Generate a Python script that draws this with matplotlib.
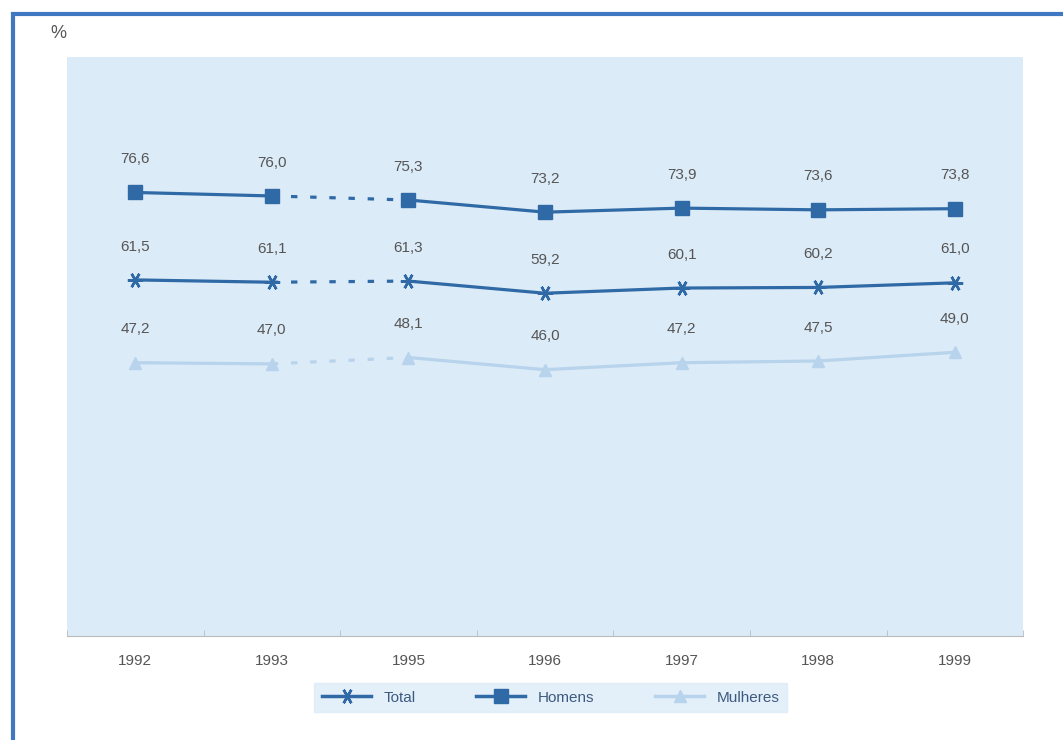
import matplotlib.pyplot as plt
from matplotlib.patches import Rectangle

plt.rcParams['font.family'] = ['Liberation Sans', 'DejaVu Sans']

# Taxa de actividade por sexo (%)
years = ['1992', '1993', '1995', '1996', '1997', '1998', '1999']
total = [61.5, 61.1, 61.3, 59.2, 60.1, 60.2, 61.0]
homens = [76.6, 76.0, 75.3, 73.2, 73.9, 73.6, 73.8]
mulheres = [47.2, 47.0, 48.1, 46.0, 47.2, 47.5, 49.0]

dark = '#2f6aa6'
light = '#b8d3ec'
text_col = '#555555'

fig = plt.figure(figsize=(10.63, 7.40), dpi=100)
fig.patches.append(Rectangle((0.012, -0.05), 1.2, 1.031, transform=fig.transFigure,
                             fill=False, edgecolor='#3f78c0', linewidth=3))
ax = fig.add_axes([0.063, 0.1405, 0.8995, 0.7825])
ax.set_facecolor('#dcebf8')

x = list(range(len(years)))
series = [
    ('Total', total, dark, dict(marker=(6, 2, 90), markersize=11, markeredgewidth=1.8)),
    ('Homens', homens, dark, dict(marker='s', markersize=10)),
    ('Mulheres', mulheres, light, dict(marker='^', markersize=8)),
]

# 1994 has no data: the 1993-1995 segment is drawn dashed
for name, vals, col, mk in series:
    ax.plot(x[:2], vals[:2], color=col, linewidth=2.3, **mk)
    ax.plot(x[1:3], vals[1:3], color=col, linewidth=2.3, linestyle=(0, (2, 4)))
    ax.plot(x[2:], vals[2:], color=col, linewidth=2.3, **mk)
    for xi, v in zip(x, vals):
        ax.annotate(f'{v:.1f}'.replace('.', ','), (xi, v), xytext=(0, 19),
                    textcoords='offset points', ha='center', va='bottom',
                    fontsize=11, color=text_col)

ax.set_xlim(-0.5, len(years) - 0.5)
ax.set_ylim(0, 100)
ax.set_xticks(x)
ax.set_xticklabels(years, fontsize=11, color=text_col)
ax.set_xticks([i - 0.5 for i in range(len(years) + 1)], minor=True)
ax.tick_params(axis='x', which='major', length=0, pad=13)
ax.tick_params(axis='x', which='minor', length=4, color='#bbbbbb', direction='in')
ax.set_yticks([])
for side in ['top', 'right', 'left']:
    ax.spines[side].set_visible(False)
ax.spines['bottom'].set_color('#bbbbbb')

fig.text(0.055, 0.955, '%', fontsize=13, color=text_col, ha='center', va='center')

handles = []
for name, vals, col, mk in series:
    h, = ax.plot([], [], color=col, linewidth=2.5, label=name, **mk)
    handles.append(h)
leg = fig.legend(handles=handles, loc='center', bbox_to_anchor=(0.518, 0.057),
                 ncol=3, frameon=True, fontsize=11, handlelength=3.2,
                 columnspacing=4.0, borderpad=0.5, fancybox=False)
leg.get_frame().set_facecolor('#dcebf8')
leg.get_frame().set_edgecolor('#dcebf8')
for t in leg.get_texts():
    t.set_color('#3d5a80')

fig.savefig('out.png', dpi=100)
